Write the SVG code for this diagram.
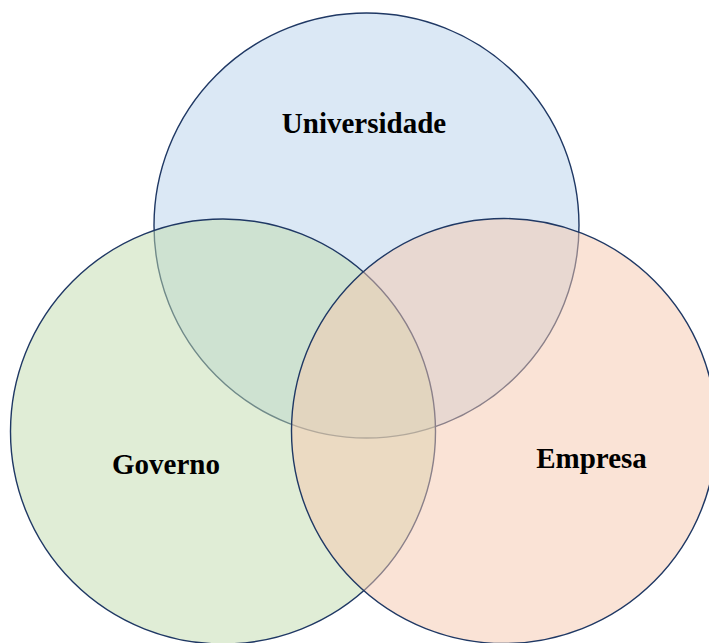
<svg xmlns="http://www.w3.org/2000/svg" width="709" height="643" viewBox="0 0 709 643">
<style>
.c{stroke:#1f3864;stroke-width:1.4}
.t{font-family:"Liberation Serif","Times New Roman",serif;font-weight:bold;font-size:29px;fill:#000;text-anchor:middle}
</style>
<rect width="709" height="643" fill="#fff"/>
<g id="universidade">
<circle class="c" cx="366.5" cy="225.5" r="212.5" fill="#dbe8f5"/>
<text class="t" x="364" y="133">Universidade</text>
</g>
<g id="governo">
<circle class="c" cx="223" cy="431.5" r="212.5" fill="#c1dbad" fill-opacity="0.5" stroke-opacity="1"/>
<text class="t" x="166" y="474">Governo</text>
</g>
<g id="empresa">
<circle class="c" cx="504" cy="431" r="212.5" fill="#f5c7ad" fill-opacity="0.5"/>
<text class="t" x="591.5" y="468">Empresa</text>
</g>
<g id="connectors"/>
</svg>
